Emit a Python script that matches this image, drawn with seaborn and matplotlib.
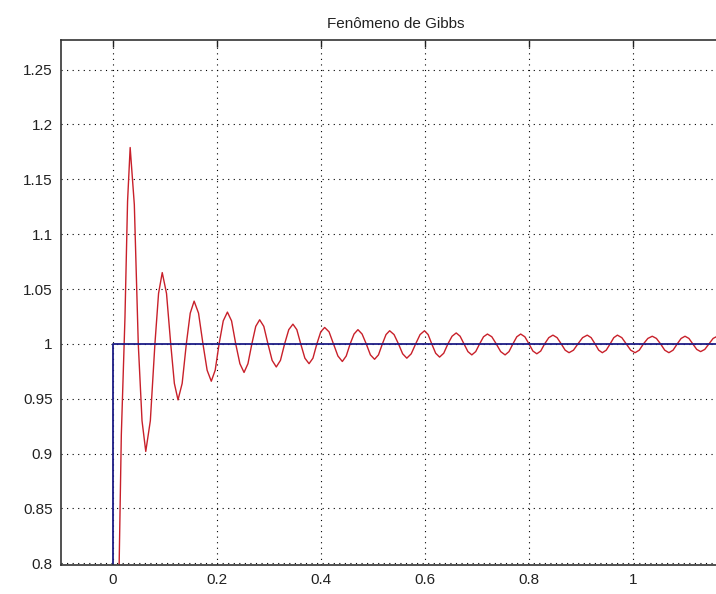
import matplotlib
matplotlib.use("Agg")
import matplotlib.pyplot as plt
import seaborn as sns
import pandas as pd

# red curve: points (rise, then for each half wave:
# shoulder, extremum, shoulder, crossing of 1)
gibbs_x = [0.000, 0.0115, 0.016, 0.023,
           0.028, 0.033, 0.041, 0.0486,
           0.0558, 0.063, 0.0718, 0.0806,
           0.0876, 0.0947, 0.1029, 0.111,
           0.118, 0.125, 0.133, 0.141,
           0.1485, 0.156, 0.1645, 0.173,
           0.181, 0.189, 0.1965, 0.204,
           0.212, 0.220, 0.228, 0.236,
           0.244, 0.252, 0.2595, 0.267,
           0.2745, 0.282, 0.290, 0.298,
           0.306, 0.314, 0.322, 0.330,
           0.338, 0.346, 0.3535, 0.361,
           0.369, 0.377, 0.3845, 0.392,
           0.3995, 0.407, 0.4155, 0.424,
           0.4325, 0.441, 0.4485, 0.456,
           0.4635, 0.471, 0.479, 0.487,
           0.495, 0.503, 0.5105, 0.518,
           0.525, 0.532, 0.5405, 0.549,
           0.557, 0.565, 0.5735, 0.582,
           0.5905, 0.599, 0.606, 0.613,
           0.6205, 0.628, 0.636, 0.644,
           0.652, 0.660, 0.6675, 0.675,
           0.6825, 0.690, 0.6975, 0.705,
           0.7125, 0.720, 0.7285, 0.737,
           0.7455, 0.754, 0.7615, 0.769,
           0.7765, 0.784, 0.792, 0.800,
           0.8075, 0.815, 0.8225, 0.830,
           0.838, 0.846, 0.854, 0.862,
           0.8695, 0.877, 0.8855, 0.894,
           0.903, 0.912, 0.9195, 0.927,
           0.934, 0.941, 0.9485, 0.956,
           0.963, 0.970, 0.9785, 0.987,
           0.9955, 1.004, 1.012, 1.020,
           1.0285, 1.037, 1.045, 1.053,
           1.061, 1.069, 1.077, 1.085,
           1.0925, 1.100, 1.1075, 1.115,
           1.1225, 1.130, 1.138, 1.146,
           1.154, 1.162, 1.170, 1.178,
           1.194]
gibbs_y = [0.500, 0.790, 0.917, 1.024,
           1.130, 1.179, 1.127, 1.000,
           0.930, 0.902, 0.930, 1.000,
           1.046, 1.065, 1.046, 1.000,
           0.964, 0.949, 0.964, 1.000,
           1.028, 1.039, 1.028, 1.000,
           0.976, 0.966, 0.976, 1.000,
           1.021, 1.029, 1.021, 1.000,
           0.982, 0.974, 0.982, 1.000,
           1.016, 1.022, 1.016, 1.000,
           0.985, 0.979, 0.985, 1.000,
           1.013, 1.018, 1.013, 1.000,
           0.987, 0.982, 0.987, 1.000,
           1.011, 1.015, 1.011, 1.000,
           0.989, 0.984, 0.989, 1.000,
           1.009, 1.013, 1.009, 1.000,
           0.990, 0.986, 0.990, 1.000,
           1.0085, 1.012, 1.0085, 1.000,
           0.991, 0.987, 0.991, 1.000,
           1.0085, 1.012, 1.0085, 1.000,
           0.9915, 0.988, 0.9915, 1.000,
           1.007, 1.010, 1.007, 1.000,
           0.993, 0.990, 0.993, 1.000,
           1.0065, 1.009, 1.0065, 1.000,
           0.993, 0.990, 0.993, 1.000,
           1.0065, 1.009, 1.0065, 1.000,
           0.9935, 0.991, 0.9935, 1.000,
           1.0057, 1.008, 1.0057, 1.000,
           0.9943, 0.992, 0.9943, 1.000,
           1.0057, 1.008, 1.0057, 1.000,
           0.9943, 0.992, 0.9943, 1.000,
           1.0057, 1.008, 1.0057, 1.000,
           0.9943, 0.992, 0.9943, 1.000,
           1.005, 1.007, 1.005, 1.000,
           0.9943, 0.992, 0.9943, 1.000,
           1.005, 1.007, 1.005, 1.000,
           0.995, 0.993, 0.995, 1.000,
           1.005, 1.007, 1.005, 1.000,
           0.993]

# blue ideal step
step_x = [-0.2, 0.0, 0.0, 1.25]
step_y = [0.0, 0.0, 1.0, 1.0]

x_ticks = [0, 0.2, 0.4, 0.6, 0.8, 1.0]
x_labels = ["0", "0.2", "0.4", "0.6", "0.8", "1"]
y_ticks = [0.8, 0.85, 0.9, 0.95, 1.0, 1.05, 1.1, 1.15, 1.2, 1.25]
y_labels = ["0.8", "0.85", "0.9", "0.95", "1", "1.05", "1.1", "1.15", "1.2", "1.25"]

sns.set_style("white")
plt.rcParams["font.family"] = ["Liberation Sans", "DejaVu Sans"]

fig = plt.figure(figsize=(7.16, 5.94), dpi=100)
ax = fig.add_axes([61 / 716, 29 / 594, (730 - 61) / 716, 525 / 594])

gibbs = pd.DataFrame({"x": gibbs_x, "y": gibbs_y})
step = pd.DataFrame({"x": step_x, "y": step_y})
sns.lineplot(data=gibbs, x="x", y="y", sort=False, estimator=None,
             color="#c8202a", linewidth=1.0, ax=ax)
sns.lineplot(data=step, x="x", y="y", sort=False, estimator=None,
             color="#1c1c86", linewidth=1.3, ax=ax)

ax.set_xlim(-0.1, 1.1865)
ax.set_ylim(0.7985, 1.277)
ax.set_xticks(x_ticks)
ax.set_xticklabels(x_labels)
ax.set_yticks(y_ticks)
ax.set_yticklabels(y_labels)
ax.set_xlabel("")
ax.set_ylabel("")

ax.grid(True, linestyle=(0, (1, 4)), color="black", linewidth=0.8)
ax.tick_params(direction="in", top=True, right=True, length=5, width=1,
               labelsize=11, colors="#222222", pad=6)
for side in ax.spines.values():
    side.set_color("#333333")
    side.set_linewidth(1.2)

ax.set_title("Fenômeno de Gibbs", fontsize=11, color="#222222", pad=9)

fig.savefig("out.png", dpi=100)
